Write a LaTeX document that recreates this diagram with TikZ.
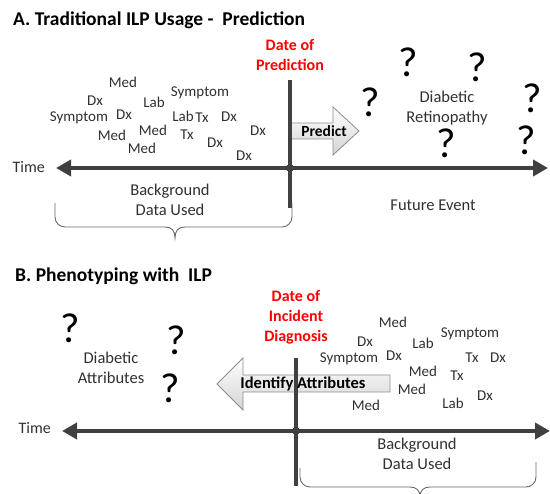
\documentclass[tikz,border=0pt]{standalone}
\usepackage{fontspec}
\setmainfont{Carlito}
\usetikzlibrary{arrows.meta}
\definecolor{linegray}{HTML}{404040}
\definecolor{wordgray}{HTML}{303030}
\definecolor{bracegray}{HTML}{6A6A6A}
\definecolor{arrowedge}{HTML}{8C8C8C}
\definecolor{arrowlow}{HTML}{D4D4D4}
\begin{document}
\begin{tikzpicture}[x=1pt,y=-1pt,
  title/.style={anchor=west,inner sep=0pt,font=\fontsize{19.5}{22}\selectfont\bfseries,text=black},
  datelabel/.style={inner sep=0pt,align=center,text=red,font=\fontsize{16}{20}\selectfont\bfseries},
  word/.style={inner sep=0pt,text=wordgray,font=\fontsize{15}{17}\selectfont},
  label/.style={inner sep=0pt,align=center,text=wordgray,font=\fontsize{16.5}{20.5}\selectfont},
  qmark/.style={inner sep=0pt,text=black,font=\fontsize{42}{42}\selectfont},
  timeline/.style={draw=linegray,line width=4pt,{Triangle[length=15pt,width=16pt]}-{Triangle[length=15pt,width=16pt]}},
  dateline/.style={draw=linegray,line width=4pt},
  brace/.style={draw=bracegray,line width=0.9pt,rounded corners=10pt},
  bigarrow/.style={draw=arrowedge,line width=0.8pt,top color=white,bottom color=arrowlow},
  arrowtext/.style={inner sep=0pt,text=black,font=\fontsize{15.5}{18}\selectfont\bfseries},
  dot/.style={circle,fill=linegray,inner sep=0pt,minimum size=8pt}]
\useasboundingbox (0,0) rectangle (550,494);

% ---------------- Panel A ----------------
\node[title] (titleA) at (13,20) {A. Traditional ILP Usage -\ \ Prediction};
\node[datelabel] (dateA) at (290,55) {Date of\\Prediction};

% predict arrow
\path[bigarrow] (290,123) -- (333,123) -- (333,107) -- (359,131) -- (333,155) -- (333,139) -- (290,139) -- cycle;
\node[arrowtext] (predict) at (324,131) {Predict};

% timeline and date line
\coordinate (A-left) at (56,168);
\coordinate (A-right) at (548,168);
\coordinate (A-top) at (290,80);
\coordinate (A-bottom) at (290,208);
\draw[dateline] (A-top) -- (A-bottom);
\draw[timeline] (A-left) -- (A-right);
\node[dot] (A-now) at (290,168) {};
\node[word,anchor=east,font=\fontsize{16}{18}\selectfont] (timeA) at (45,167) {Time};

% background data
\node[word] (a1) at (123,82) {Med};
\node[word] (a2) at (95,101) {Dx};
\node[word] (a3) at (154,102) {Lab};
\node[word] (a4) at (200,93) {Symptom};
\node[word] (a5) at (79,118) {Symptom};
\node[word] (a6) at (124,115) {Dx};
\node[word] (a7) at (183,116) {Lab};
\node[word] (a8) at (202,118) {Tx};
\node[word] (a9) at (229,117) {Dx};
\node[word] (a10) at (112,135) {Med};
\node[word] (a11) at (153,130) {Med};
\node[word] (a12) at (187,135) {Tx};
\node[word] (a13) at (215,143) {Dx};
\node[word] (a14) at (258,131) {Dx};
\node[word] (a15) at (142,148) {Med};
\node[word] (a16) at (244,156) {Dx};

\node[label] (bgA) at (170,200) {Background\\Data Used};
\draw[brace] (55,203) -- (55,227) -- (165,227);
\draw[draw=bracegray,line width=0.9pt] (165,227) .. controls (172,227) and (175,231) .. (175,238)
      .. controls (175,231) and (178,227) .. (185,227);
\draw[brace] (185,227) -- (292,227) -- (292,203);

% future event
\node[label] (retino) at (447,108) {Diabetic\\Retinopathy};
\node[label] (future) at (433,205) {Future Event};
\node[qmark] (q1) at (408,62) {?};
\node[qmark] (q2) at (477,67) {?};
\node[qmark] (q3) at (370,102) {?};
\node[qmark] (q4) at (532,98) {?};
\node[qmark] (q5) at (446,143) {?};
\node[qmark] (q6) at (526,140) {?};

% ---------------- Panel B ----------------
\node[title] (titleB) at (15,276) {B. Phenotyping with\ \ ILP};
\node[datelabel] (dateB) at (296,317) {Date of\\Incident\\Diagnosis};

% identify arrow
\path[bigarrow] (390,375) -- (243,375) -- (243,358) -- (217,384) -- (243,410) -- (243,392) -- (390,392) -- cycle;

\coordinate (B-left) at (62,431);
\coordinate (B-right) at (550,431);
\coordinate (B-top) at (296,358);
\coordinate (B-bottom) at (296,486);
\draw[dateline] (B-top) -- (B-bottom);
\draw[timeline] (B-left) -- (B-right);
\node[dot] (B-now) at (296,431) {};
\node[word,anchor=east,font=\fontsize{16}{18}\selectfont] (timeB) at (51,428) {Time};

\node[arrowtext,font=\fontsize{16.5}{18}\selectfont\bfseries] (identify) at (303,384) {Identify Attributes};

\node[label] (attrs) at (111,368) {Diabetic\\Attributes};
\node[qmark] (q7) at (70,328) {?};
\node[qmark] (q8) at (176,340) {?};
\node[qmark] (q9) at (170,388) {?};

\node[word] (b1) at (393,322) {Med};
\node[word] (b2) at (365,342) {Dx};
\node[word] (b3) at (423,343) {Lab};
\node[word] (b4) at (470,334) {Symptom};
\node[word] (b5) at (349,359) {Symptom};
\node[word] (b6) at (394,356) {Dx};
\node[word] (b7) at (472,358) {Tx};
\node[word] (b8) at (498,358) {Dx};
\node[word] (b9) at (423,371) {Med};
\node[word] (b10) at (457,376) {Tx};
\node[word] (b11) at (412,389) {Med};
\node[word] (b12) at (366,405) {Med};
\node[word] (b13) at (453,403) {Lab};
\node[word] (b14) at (485,396) {Dx};

\node[label] (bgB) at (417,454) {Background\\Data Used};
\draw[brace] (300,468) -- (300,487) -- (410,487);
\draw[draw=bracegray,line width=0.9pt] (410,487) .. controls (416,487) and (420,490) .. (420,497)
      .. controls (420,490) and (424,487) .. (430,487);
\draw[brace] (430,487) -- (536,487) -- (536,462);
\end{tikzpicture}
\end{document}
